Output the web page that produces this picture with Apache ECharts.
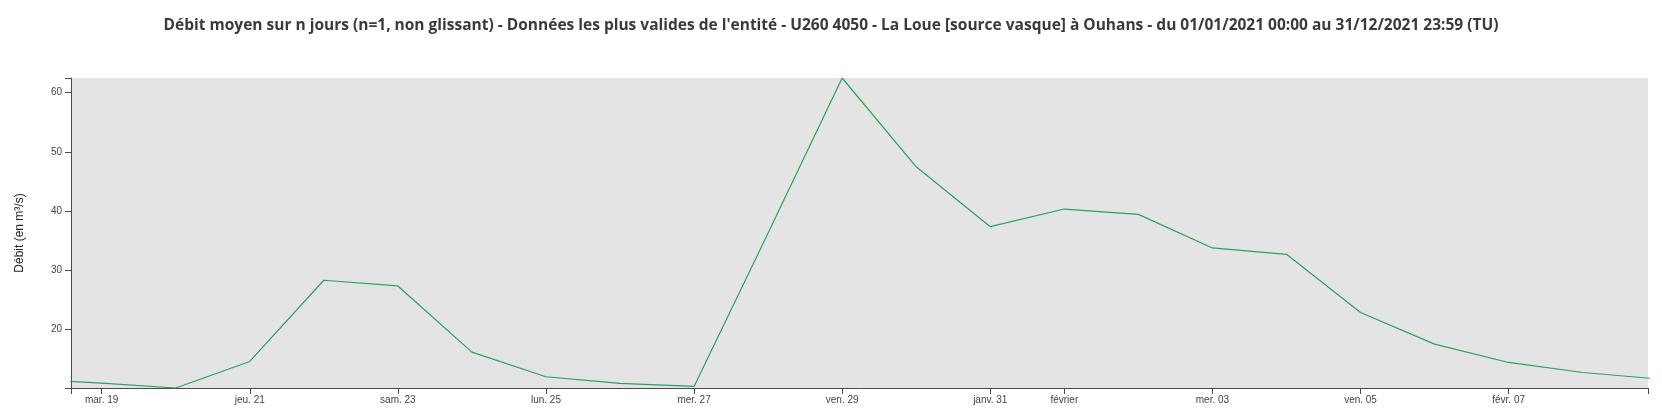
<!DOCTYPE html>
<html>
<head>
<meta charset="utf-8">
<script src="https://cdn.jsdelivr.net/npm/echarts@6/dist/echarts.min.js"></script>
<style>
html,body{margin:0;padding:0;background:#fff;}
#chart{width:1662px;height:412px;}
</style>
</head>
<body>
<div id="chart"></div>
<script>
// Daily mean flow (m3/s), dates in UTC
const dates = ['2021-01-18','2021-01-19','2021-01-20','2021-01-21','2021-01-22','2021-01-23','2021-01-24',
  '2021-01-25','2021-01-26','2021-01-27','2021-01-28','2021-01-29','2021-01-30','2021-01-31',
  '2021-02-01','2021-02-02','2021-02-03','2021-02-04','2021-02-05','2021-02-06','2021-02-07',
  '2021-02-08','2021-02-09'];
const values = [11.65, 10.95, 10.13, 14.61, 28.32, 27.36, 16.19,
  12.03, 10.9, 10.4, 36.3, 62.46, 47.47, 37.36,
  40.34, 39.44, 33.77, 32.7, 22.87, 17.54, 14.44,
  12.75, 11.68];
const tickDates = ['2021-01-19','2021-01-21','2021-01-23','2021-01-25','2021-01-27','2021-01-29',
  '2021-01-31','2021-02-01','2021-02-03','2021-02-05','2021-02-07'];
const tickLabels = ['mar. 19','jeu. 21','sam. 23','lun. 25','mer. 27','ven. 29',
  'janv. 31','février','mer. 03','ven. 05','févr. 07'];
const yTicks = [20, 30, 40, 50, 60];
const titleText = "Débit moyen sur n jours (n=1, non glissant) - Données les plus valides de l'entité - U260 4050 - La Loue [source vasque] à Ouhans - du 01/01/2021 00:00 au 31/12/2021 23:59 (TU)";
const yName = 'Débit (en m³/s)';

const xMin = Date.UTC(2021, 0, 18, 14, 4);
const xMax = Date.UTC(2021, 1, 8, 21, 10);
const yMin = Math.min(...values);
const yMax = Math.max(...values);

const tickTimes = tickDates.map(d => new Date(d + 'T00:00:00Z').getTime());
const labelMap = {};
tickTimes.forEach((t, i) => { labelMap[t] = tickLabels[i]; });

const seriesData = dates.map((d, i) => [new Date(d + 'T00:00:00Z').getTime(), values[i]]);

const axisColor = '#4a4a4a';
const chart = echarts.init(document.getElementById('chart'), null, {renderer: 'canvas'});
chart.setOption({
  animation: false,
  backgroundColor: '#ffffff',
  title: {
    text: titleText,
    left: 'center',
    top: 13,
    textStyle: {fontFamily: 'Open Sans', fontWeight: 'bold', fontSize: 15.5, color: '#3a3a3a'}
  },
  grid: {
    left: 71, right: 14, top: 78, bottom: 24,
    show: true, backgroundColor: '#e4e4e4', borderWidth: 0
  },
  xAxis: {
    type: 'value',
    min: xMin, max: xMax,
    splitLine: {show: false},
    axisLine: {show: true, lineStyle: {color: axisColor, width: 1}},
    axisTick: {show: true, length: 6, customValues: [xMin].concat(tickTimes, [xMax]), lineStyle: {color: axisColor}},
    axisLabel: {
      customValues: tickTimes,
      margin: 7,
      fontFamily: 'Liberation Sans, Arial, sans-serif',
      fontSize: 10,
      color: '#444',
      formatter: v => labelMap[v] || ''
    }
  },
  yAxis: {
    type: 'value',
    min: yMin, max: yMax,
    name: yName,
    nameLocation: 'middle',
    nameRotate: 90,
    nameGap: 45,
    nameTextStyle: {fontFamily: 'Liberation Sans, Arial, sans-serif', fontSize: 12, color: '#222'},
    splitLine: {show: false},
    axisLine: {show: true, lineStyle: {color: axisColor, width: 1}},
    axisTick: {show: true, length: 6, customValues: [yMin].concat(yTicks, [yMax]), lineStyle: {color: axisColor}},
    axisLabel: {
      customValues: yTicks,
      margin: 9,
      fontFamily: 'Liberation Sans, Arial, sans-serif',
      fontSize: 10,
      color: '#444'
    }
  },
  series: [{
    type: 'line',
    data: seriesData,
    showSymbol: false,
    symbol: 'none',
    clip: true,
    lineStyle: {color: '#2f9e62', width: 1.2}
  }]
});
</script>
</body>
</html>
